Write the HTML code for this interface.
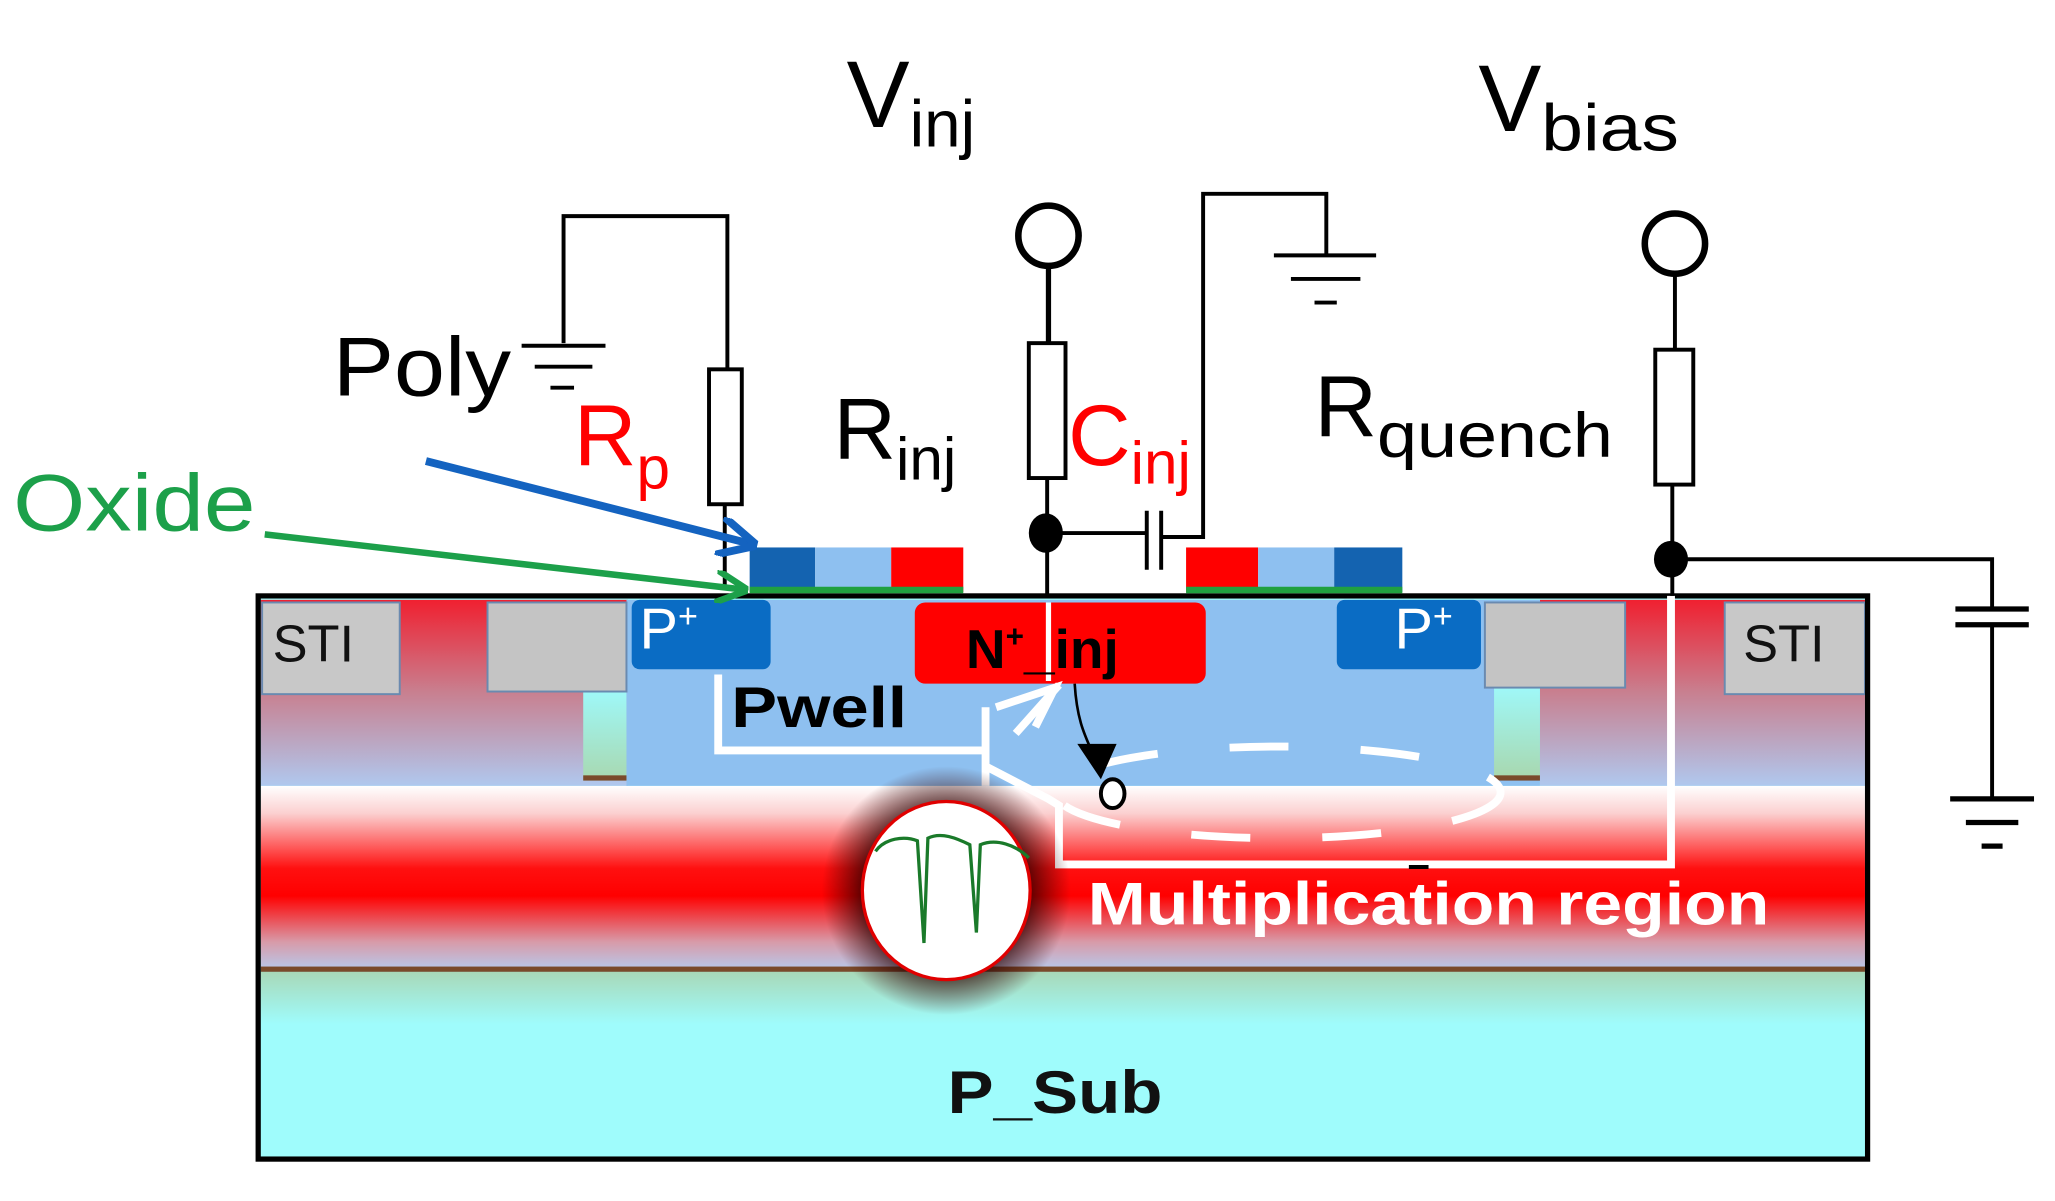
<!DOCTYPE html>
<html><head><meta charset="utf-8"><style>
html,body{margin:0;padding:0;background:#fff;}
svg{display:block;}
text{font-family:"Liberation Sans",Arial,sans-serif;}
</style></head><body>
<svg width="2055" height="1201" viewBox="0 0 1568 917" preserveAspectRatio="none" xmlns="http://www.w3.org/2000/svg">
<defs>
<linearGradient id="mult" x1="0" y1="0" x2="0" y2="1">
<stop offset="0" stop-color="#ffffff"/><stop offset="0.15" stop-color="#fbd0d0"/>
<stop offset="0.45" stop-color="#ff1010"/><stop offset="0.6" stop-color="#ff0000"/>
<stop offset="0.85" stop-color="#d89aa8"/><stop offset="1" stop-color="#b8c8ea"/></linearGradient>
<linearGradient id="side" x1="0" y1="0" x2="0" y2="1">
<stop offset="0" stop-color="#f02030"/><stop offset="0.5" stop-color="#c88090"/><stop offset="1" stop-color="#b0c8ee"/></linearGradient>
<linearGradient id="gb" x1="0" y1="0" x2="0" y2="1">
<stop offset="0" stop-color="#a8d8b8"/><stop offset="1" stop-color="#9ffcfc"/></linearGradient>
<linearGradient id="cy" x1="0" y1="0" x2="0" y2="1">
<stop offset="0" stop-color="#9ff8f8"/><stop offset="1" stop-color="#a8d8b0"/></linearGradient>
<radialGradient id="glow"><stop offset="0.6" stop-color="#200000" stop-opacity="0.9"/><stop offset="1" stop-color="#400000" stop-opacity="0"/></radialGradient>
<marker id="ab" viewBox="0 0 10 10" refX="8" refY="5" markerWidth="5" markerHeight="5" orient="auto"><path d="M0,0 L10,5 L0,10" fill="none" stroke="#1463c0" stroke-width="2"/></marker>
<marker id="ag" viewBox="0 0 10 10" refX="8" refY="5" markerWidth="5" markerHeight="5" orient="auto"><path d="M0,0 L10,5 L0,10" fill="none" stroke="#1ca04a" stroke-width="2"/></marker>
</defs>

<rect x="197" y="455" width="1228" height="430" fill="#9ffcfc"/>
<rect x="199" y="742" width="1224" height="40" fill="url(#gb)"/>
<rect x="199" y="600" width="1224" height="140" fill="url(#mult)"/>
<rect x="199" y="738" width="1224" height="4" fill="#7a4a2a"/>
<rect x="199" y="458" width="280" height="142" fill="url(#side)"/>
<rect x="1175" y="458" width="248" height="142" fill="url(#side)"/>
<rect x="478" y="458" width="697" height="142" fill="#8ec0f0"/>
<rect x="445" y="528" width="33" height="68" fill="url(#cy)"/>
<rect x="445" y="592" width="33" height="4" fill="#7a4a2a"/>
<rect x="1140" y="525" width="35" height="68" fill="url(#cy)"/>
<rect x="1140" y="592" width="35" height="4" fill="#7a4a2a"/>
<rect x="200" y="460" width="105" height="70" fill="#c8c8c8" stroke="#6a8ab0" stroke-width="1.5"/>
<rect x="372" y="460" width="106" height="68" fill="#c4c4c4" stroke="#6a8ab0" stroke-width="1.5"/>
<rect x="1133" y="460" width="107" height="65" fill="#c4c4c4" stroke="#6a8ab0" stroke-width="1.5"/>
<rect x="1316" y="460" width="107" height="70" fill="#c8c8c8" stroke="#6a8ab0" stroke-width="1.5"/>
<rect x="482" y="458" width="106" height="53" rx="6" fill="#0a6cc4"/>
<rect x="1020" y="458" width="110" height="53" rx="6" fill="#0a6cc4"/>
<rect x="698" y="460" width="222" height="62" rx="8" fill="#ff0000"/>
<rect x="197" y="455" width="1228" height="430" fill="none" stroke="#000" stroke-width="4"/>

<rect x="572" y="418" width="50" height="34" fill="#1463b0"/>
<rect x="622" y="418" width="58" height="34" fill="#8ec0f0"/>
<rect x="680" y="418" width="55" height="34" fill="#ff0000"/>
<rect x="572" y="448" width="163" height="5" fill="#20a040"/>
<rect x="905" y="418" width="55" height="34" fill="#ff0000"/>
<rect x="960" y="418" width="58" height="34" fill="#8ec0f0"/>
<rect x="1018" y="418" width="52" height="34" fill="#1463b0"/>
<rect x="905" y="448" width="165" height="5" fill="#20a040"/>

<g stroke="#fff" fill="none" stroke-width="6">
<polyline points="548,515 548,573 752,573"/>
<line x1="752" y1="540" x2="752" y2="600"/>
<line x1="775" y1="560" x2="808" y2="523"/>
<polyline points="760,540 805,525 790,555"/>
<polyline points="752,585 800,610 808,615 808,660 1275,660 1275,455"/>
<line x1="800" y1="460" x2="800" y2="520" stroke-width="4"/>
<ellipse cx="975" cy="605" rx="170" ry="35" stroke-dasharray="45,55" stroke-width="6"/>
</g>
<line x1="1075" y1="662" x2="1090" y2="662" stroke="#000" stroke-width="3"/>

<path d="M820,522 C822,555 830,565 838,585" stroke="#000" stroke-width="2" fill="none"/>
<path d="M822,568 L852,568 L840,595 Z" fill="#000"/>
<ellipse cx="849" cy="606" rx="9" ry="11" fill="#fff" stroke="#000" stroke-width="3"/>

<circle cx="722" cy="680" r="95" fill="url(#glow)"/>
<ellipse cx="722" cy="680" rx="64" ry="68" fill="#fff" stroke="#e00000" stroke-width="2.5"/>
<path d="M668,650 C675,640 690,638 700,642 L705,720 L708,640 C718,635 730,640 740,645 L745,712 L748,645 C760,640 775,645 785,655" stroke="#1a7a2a" stroke-width="2.5" fill="none"/>

<g stroke="#000" stroke-width="3" fill="none">
<polyline points="430,262 430,165 555,165 555,282"/>
<line x1="398" y1="264" x2="462" y2="264"/><line x1="408" y1="280" x2="452" y2="280"/><line x1="420" y1="296" x2="438" y2="296"/>
<rect x="541" y="282" width="25" height="103" fill="#fff"/>
<line x1="553" y1="385" x2="553" y2="450"/>
<circle cx="800" cy="180" r="23" stroke-width="5"/>
<line x1="800" y1="203" x2="800" y2="262" stroke-width="4"/>
<rect x="785" y="262" width="28" height="103" fill="#fff"/>
<line x1="799" y1="365" x2="799" y2="455"/>
<line x1="799" y1="407" x2="875" y2="407"/>
<line x1="875" y1="390" x2="875" y2="435"/><line x1="886" y1="390" x2="886" y2="435"/>
<polyline points="886,410 918,410 918,148 1012,148 1012,195"/>
<line x1="972" y1="195" x2="1050" y2="195"/><line x1="985" y1="213" x2="1038" y2="213"/><line x1="1003" y1="231" x2="1020" y2="231"/>
<circle cx="1278" cy="186" r="23" stroke-width="5"/>
<line x1="1278" y1="209" x2="1278" y2="267" stroke-width="3"/>
<rect x="1263" y="267" width="29" height="103" fill="#fff"/>
<line x1="1276" y1="370" x2="1276" y2="455"/>
<polyline points="1276,427 1520,427 1520,465"/>
<line x1="1492" y1="465" x2="1548" y2="465" stroke-width="4"/><line x1="1492" y1="477" x2="1548" y2="477" stroke-width="4"/>
<line x1="1520" y1="477" x2="1520" y2="610"/>
<line x1="1488" y1="610" x2="1552" y2="610" stroke-width="4"/><line x1="1500" y1="628" x2="1540" y2="628" stroke-width="4"/><line x1="1512" y1="646" x2="1528" y2="646" stroke-width="4"/>
</g>
<ellipse cx="798" cy="407" rx="13" ry="15" fill="#000"/>
<ellipse cx="1275" cy="427" rx="13" ry="14" fill="#000"/>

<line x1="325" y1="352" x2="572" y2="415" stroke="#1463c0" stroke-width="6" marker-end="url(#ab)"/>
<line x1="202" y1="408" x2="566" y2="450" stroke="#1ca04a" stroke-width="5" marker-end="url(#ag)"/>

<text x="646" y="97" font-size="72">V<tspan font-size="50" dy="15">inj</tspan></text>
<text x="1128" y="100" font-size="72">V<tspan font-size="50" dy="15" textLength="105" lengthAdjust="spacingAndGlyphs">bias</tspan></text>
<text x="254" y="302" font-size="64" textLength="136" lengthAdjust="spacingAndGlyphs">Poly</text>
<text x="438" y="355" font-size="66" fill="#ff0000">R<tspan font-size="46" dy="18">p</tspan></text>
<text x="636" y="350" font-size="66">R<tspan font-size="46" dy="16">inj</tspan></text>
<text x="815" y="355" font-size="66" fill="#ff0000">C<tspan font-size="46" dy="14">inj</tspan></text>
<text x="1003" y="333" font-size="66">R<tspan font-size="48" dy="16" textLength="180" lengthAdjust="spacingAndGlyphs">quench</tspan></text>
<text x="10" y="405" font-size="62" fill="#1ca04a" textLength="185" lengthAdjust="spacingAndGlyphs">Oxide</text>
<text x="208" y="505" font-size="40" fill="#111">STI</text>
<text x="1330" y="505" font-size="40" fill="#111">STI</text>
<text x="488" y="495" font-size="44" fill="#fff">P<tspan font-size="26" dy="-16">+</tspan></text>
<text x="1064" y="495" font-size="44" fill="#fff">P<tspan font-size="26" dy="-16">+</tspan></text>
<text x="737" y="510" font-size="42" font-weight="bold">N<tspan font-size="24" dy="-16">+</tspan><tspan dy="16">_inj</tspan></text>
<text x="558" y="555" font-size="44" font-weight="bold" textLength="134" lengthAdjust="spacingAndGlyphs">Pwell</text>
<text x="830" y="706" font-size="46" font-weight="bold" fill="#fff" textLength="520" lengthAdjust="spacingAndGlyphs">Multiplication region</text>
<text x="723" y="850" font-size="46" font-weight="bold" fill="#111" textLength="164" lengthAdjust="spacingAndGlyphs">P_Sub</text>
</svg>
</body></html>
